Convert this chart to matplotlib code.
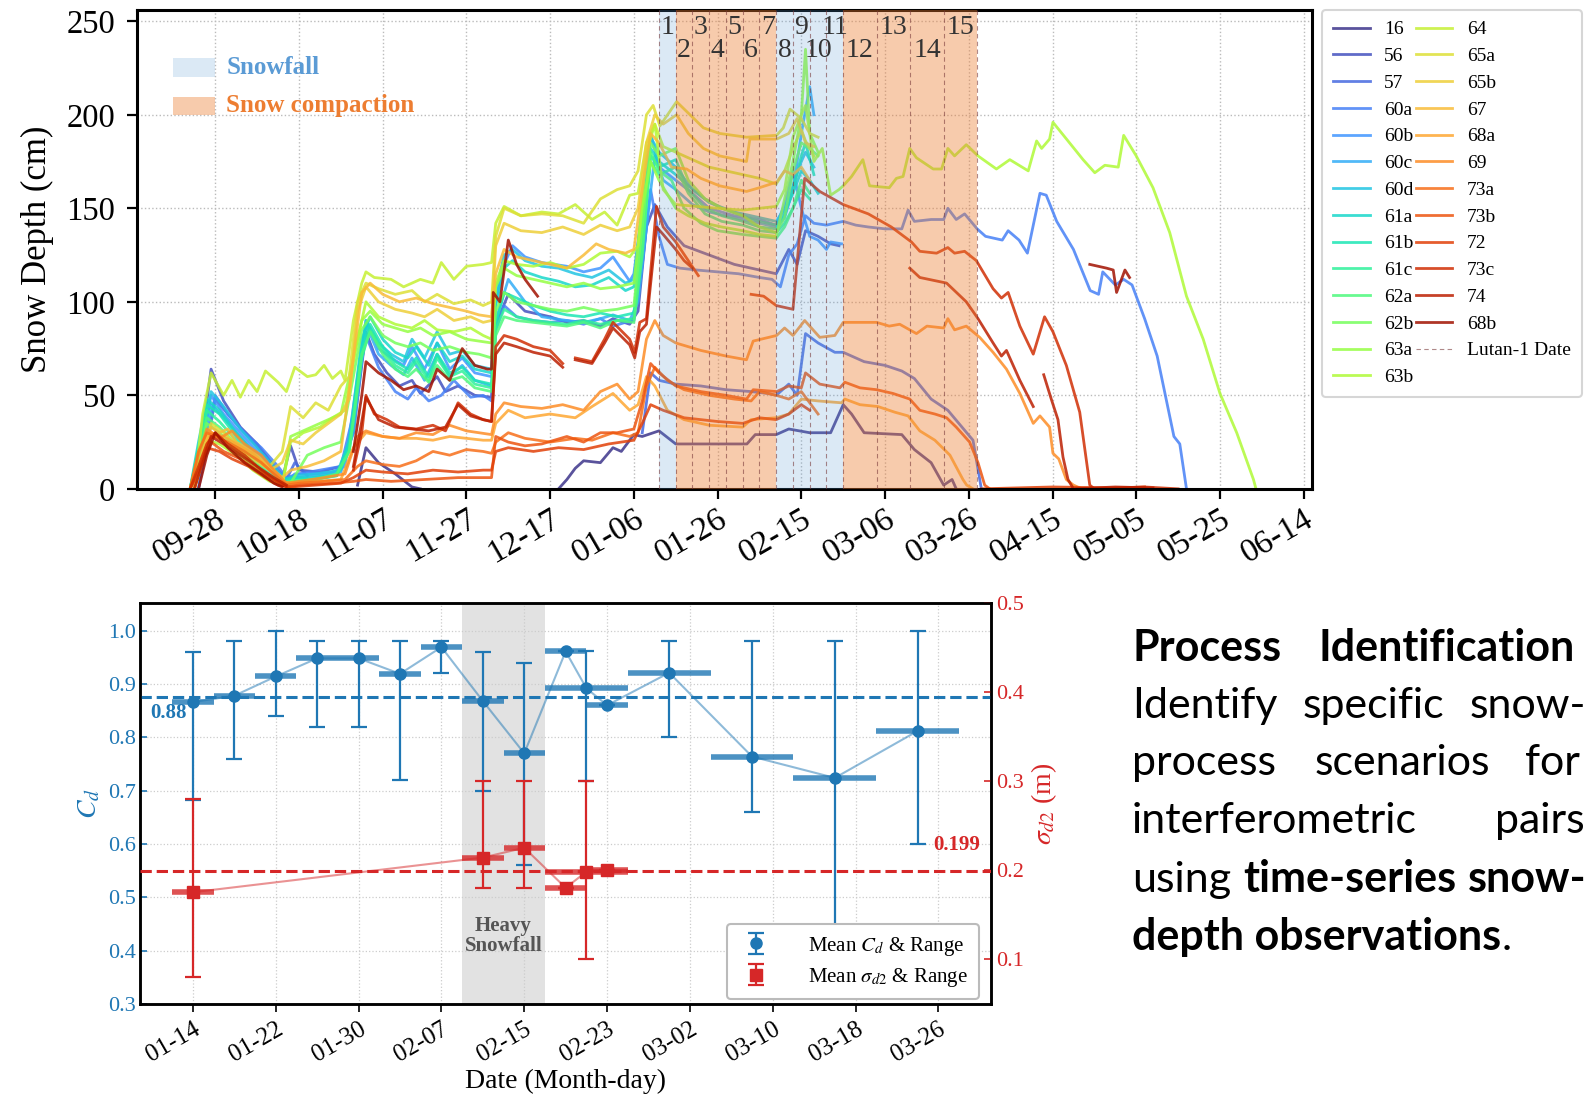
import numpy as np
import matplotlib
matplotlib.use("Agg")
import matplotlib.pyplot as plt
import matplotlib.dates as mdates
from matplotlib.patches import Rectangle, ConnectionPatch
from matplotlib.ticker import FixedLocator

plt.rcParams["font.family"] = ["Liberation Serif", "DejaVu Serif"]
plt.rcParams["mathtext.fontset"] = "stix"

N = np.nan
START = "2023-09-28"  # day 0 of the station records

# ---------------- snow-depth records: (day after START, depth cm) ----------------
station_names = ["16", "56", "57", "60a", "60b", "60c", "60d", "61a", "61b", "61c",
                 "62a", "62b", "63a", "63b", "64", "65a", "65b", "67", "68a", "69",
                 "73a", "73b", "72", "73c", "74", "68b"]

s16 = [(34,2),(36,22),(39,14),(43,8),(47,1),(49,0),(50,N),(82,0),(84,5),(86,11),(88,15),(92,14),
       (95,22),(97,20),(100,29),(102,28),(106,31),(110,24),(118,24),(127,24),(129,29),(134,29),
       (137,32),(142,30),(147,30),(150,45),(152,40),(155,30),(164,29),(167,21),(171,14),(174,2),
       (176,5),(177,0)]
s56 = [(-5,0),(-3,30),(-1,64),(2,47),(6,33),(10,24),(14,12),(16,5),(18,23),(20,10),(25,9),(30,12),
       (33,30),(36,84),(38,72),(41,62),(44,55),(47,58),(49,51),(53,60),(55,52),(58,55),(62,50),
       (66,49),(67,88),(70,104),(74,95),(80,92),(84,89),(88,90),(92,87),(95,91),(99,88),(101,95),
       (103,140),(105,152),(108,140),(112,130),(118,125),(124,120),(130,117),(134,115),(137,128),
       (139,120),(141,138),(144,135),(147,131),(149,130)]
s57 = [(-4,0),(-2,22),(0,48),(3,40),(7,30),(11,20),(15,10),(17,5),(19,14),(22,7),(24,N),(102,30),
       (104,62),(106,58),(110,56),(116,55),(122,53),(128,52),(132,51),(134,50),(137,56),(139,50),
       (141,83),(144,78),(148,73),(150,73),(152,71),(155,68),(160,66),(164,63),(167,59),(171,48),
       (175,42),(178,34),(181,26),(183,0)]
s60a = [(-4,0),(-2,28),(0,50),(3,40),(7,30),(11,22),(15,12),(17,6),(20,8),(25,10),(30,12),(33,40),
        (36,82),(39,65),(43,52),(46,48),(48,54),(51,47),(54,50),(57,58),(61,49),(64,50),(66,47),
        (67,85),(69,98),(72,92),(76,90),(80,89),(84,90),(88,88),(92,91),(95,87),(98,89),(100,90),
        (102,120),(104,160),(106,135),(108,120),(111,118),(115,117),(120,116),(125,115),(130,113),
        (133,112),(135,108),(137,125),(139,131),(141,146),(143,142),(146,141),(150,143),(153,141),
        (156,140),(160,139),(164,139),(165.5,149),(167,143),(171,144),(174,144),(175,150),(177,144),
        (179,147),(182,139),(184,135),(188,133),(189.4,138),(192,133),(194,126),(197,158),
        (198.5,157),(201,143),(205,128),(209,106),(211,104),(212,116),(215,109),(217,112),
        (219,109),(222,91),(225,71),(229,28),(230.4,24),(232,0)]
s60b = [(-5,0),(-3,25),(-1,50),(2,40),(6,30),(10,20),(14,10),(17,4),(19,8),(23,8),(28,9),(31,12),
        (34,60),(36,90),(39,75),(42,70),(45,66),(47,76),(50,64),(53,78),(56,64),(59,70),(62,62),
        (66,60),(67,100),(69,120),(71,130),(74,124),(78,121),(84,119),(88,116),(92,118),(95,124),
        (99,111),(100,115),(102,150),(104,190),(106,172),(110,165),(114,158),(118,150),(124,146),
        (130,144),(134,141),(136,152),(138,170),(140,150),(142,135),(144,133),(146,128),(147,132),
        (149.6,131)]
s60c = [(-5,0),(-3,20),(-1,45),(2,38),(6,28),(10,18),(14,8),(17,3),(19,6),(24,7),(30,9),(33,30),
        (36,88),(39,72),(42,66),(45,61),(47,70),(50,58),(53,72),(56,60),(59,66),(62,58),(66,55),
        (67,90),(70,112),(74,100),(78,92),(84,90),(88,89),(92,91),(95,93),(99,90),(101,100),
        (103,140),(105,178),(107,165),(110,160),(114,152),(118,148),(124,145),(130,142),(134,140),
        (136,145),(138,160),(140,190),(142,215),(143,200)]
s60d = [(-5,0),(-3,28),(-1,52),(2,44),(6,32),(10,22),(14,12),(17,4),(19,7),(24,8),(30,10),(33,35),
        (36,90),(39,78),(42,72),(45,68),(47,80),(50,70),(53,84),(56,72),(59,74),(62,66),(66,64),
        (67,105),(69,125),(71,128),(74,122),(78,119),(82,118),(86,115),(90,113),(94,117),(98,110),
        (100,112),(102,150),(104,188),(106,180),(110,172),(114,160),(118,153),(124,148),(130,145),
        (134,143),(136,150),(138,162),(140,175),(141,180),(143,172)]
s61a = [(-6,0),(-4,25),(-2,48),(1,42),(5,30),(9,20),(13,12),(16,5),(18,6),(23,6),(29,8),(32,25),
        (35,80),(37,92),(40,80),(43,73),(46,70),(48,76),(51,66),(53,78),(56,68),(59,71),(62,64),
        (66,62),(67,98),(69,118),(71,122),(74,116),(78,113),(82,111),(86,108),(90,109),(94,113),
        (98,106),(100,108),(102,140),(104,182),(106,175),(110,168),(113,162),(117,155),(121,150),
        (126,146),(130,143),(134,141),(136,148),(138,158),(140,170),(142,165),(144,158)]
s61b = [(-6,0),(-4,22),(-2,45),(1,40),(5,28),(9,18),(13,10),(16,4),(18,5),(23,5),(29,7),(32,22),
        (35,75),(37,88),(40,76),(43,68),(46,64),(48,70),(51,60),(53,72),(56,62),(59,65),(62,58),
        (66,56),(67,88),(69,105),(72,102),(76,98),(80,95),(84,93),(88,92),(92,94),(96,92),(100,94),
        (102,135),(104,178),(106,172),(110,176),(113,160),(117,150),(121,146),(126,143),(130,140),
        (134,139),(136,146),(138,160),(140,178),(141,185),(143,168)]
s61c = [(-6,0),(-4,20),(-2,42),(1,36),(5,26),(9,16),(13,8),(16,3),(18,4),(24,5),(29,7),(32,20),
        (35,70),(37,85),(40,74),(43,66),(46,62),(48,68),(51,58),(53,70),(56,60),(59,63),(62,56),
        (66,54),(67,85),(69,96),(72,92),(76,90),(80,89),(84,88),(88,90),(92,88),(96,90),(100,91),
        (102,130),(104,175),(106,168),(110,172),(113,158),(117,147),(121,143),(126,141),(130,138),
        (134,137),(136,142),(138,150),(140,160),(142,155)]
s62a = [(-6,0),(-4,18),(-2,38),(1,33),(5,24),(9,15),(13,7),(16,3),(18,4),(24,5),(29,8),(32,20),
        (35,72),(37,84),(40,72),(43,64),(46,60),(48,64),(51,57),(53,66),(56,58),(59,60),(62,54),
        (66,52),(67,82),(69,92),(72,90),(76,89),(80,88),(84,87),(88,89),(92,86),(96,90),(100,89),
        (102,125),(104,180),(106,170),(109,165),(112,150),(116,142),(120,138),(126,136),(130,135),
        (134,134),(136,140),(138,150),(140,165),(142,158)]
s62b = [(-6,0),(-4,15),(-2,35),(1,30),(5,22),(9,14),(13,6),(16,2),(18,3),(22,18),(26,22),(30,25),
        (33,60),(35,85),(37,92),(40,82),(43,78),(46,76),(49,78),(52,74),(56,76),(60,73),(63,72),
        (66,70),(67,95),(69,105),(72,100),(76,98),(80,96),(84,95),(88,97),(92,95),(96,96),(100,98),
        (102,140),(104,185),(106,178),(110,182),(113,165),(117,155),(121,150),(126,146),(130,140),
        (134,137),(136,145),(138,170),(140,185),(142,182),(144,178)]
s63a = [(-6,0),(-4,14),(-2,30),(1,28),(5,20),(9,12),(13,6),(16,2),(18,28),(22,32),(26,36),(30,40),
        (33,70),(35,90),(37,95),(40,88),(43,86),(46,84),(49,86),(52,82),(56,84),(60,80),(63,79),
        (66,78),(67,108),(69,118),(72,114),(76,112),(80,110),(84,108),(88,110),(92,107),(96,108),
        (100,110),(102,150),(104,175),(106,165),(110,150),(113,146),(117,142),(121,140),(126,138),
        (130,136),(134,135),(136,155),(138,175),(140,200),(141,235),(142,190),(144,180)]
s63b = [(-6,0),(-4,12),(-2,26),(1,24),(5,18),(9,10),(13,4),(16,2),(18,25),(21,30),(25,33),(28,38),
        (31,42),(34,80),(36,100),(39,92),(43,88),(47,86),(50,90),(53,85),(57,84),(61,86),(64,82),
        (66,80),(67,110),(69,122),(72,120),(76,119),(80,121),(84,118),(88,120),(92,126),(96,127),
        (99,124),(101,130),(103,180),(105,195),(107,160),(110,152),(115,151),(120,150),(126,149),
        (130,150),(134,151),(136,160),(138,188),(140,200),(141,205),(143,175),(145,182),(147,157),
        (149,160),(150,162),(152,167),(154.7,176),(156.3,162),(161,161),(162.7,166),(164.3,167),
        (165.9,182),(167.5,177),(171.5,171),(173.5,171),(175,182),(176.6,178),(179.4,184),
        (182.2,178),(186.6,171),(189.8,176),(194.2,170),(196.2,186),(197.4,182),(199.3,187),
        (200.1,196),(203.7,186),(207.3,176),(210.1,169),(212.5,173),(215.7,172),(217,189),
        (220,178),(224,161),(228,137),(232,103),(236,80),(240,51),(244,30),(248,5),(248.6,0)]
s64 = [(-5,0),(-3,40),(-1,62),(2,50),(4,58),(6,49),(8,58),(10,52),(12,63),(15,57),(17,52),(19,65),
       (22,60),(24,61),(26,66),(28,59),(30,63),(31,58),(33,90),(35,110),(36,116),(38,113),(42,112),
       (45,108),(49,112),(52,110),(54,121),(57,112),(60,119),(64,120),(66,121),(67,142),(69,151),
       (73,146),(78,148),(82,147),(86,152),(90,144),(93,148),(96,141),(99,157),(101,158),(103,185),
       (105,195),(107,183),(110,180),(114,176),(118,172),(124,169),(130,166),(134,163),(136,170),
       (138,182),(140,192),(141,186),(143,178)]
s65a = [(-5,0),(-3,18),(-1,35),(2,30),(5,24),(9,18),(13,12),(16,20),(18,44),(21,38),(24,46),(27,42),
        (30,55),(32,60),(34,100),(36,110),(39,107),(43,104),(47,106),(50,100),(53,104),(57,99),
        (61,101),(64,98),(66,100),(67,135),(69,150),(73,146),(78,147),(83,146),(88,142),(92,155),
        (96,160),(99,162),(101,170),(103,200),(104.6,205),(106.2,194),(110.2,207),(113.4,200),
        (116.6,193),(120.5,190),(126.9,188),(134.1,189),(135.7,193),(137.3,203),(140,198),
        (142,190),(144,188)]
s65b = [(-5,0),(-3,15),(-1,30),(2,26),(5,22),(9,16),(13,10),(16,14),(18,26),(21,24),(24,30),(27,35),
        (30,40),(32,48),(34,95),(36,108),(39,100),(43,96),(47,94),(50,92),(53,96),(57,90),(61,92),
        (64,89),(66,90),(67,130),(69,142),(73,138),(78,137),(83,140),(88,136),(92,141),(96,138),
        (99,140),(101,150),(103,185),(105,200),(107,195),(110.2,200),(113,190),(116.6,182),
        (120.5,178),(126.9,175),(127.7,187),(134.1,187),(137,190),(139,198),(141,185),(143,183)]
s67 = [(-5,0),(-3,20),(-1,33),(1,30),(3,32),(5,25),(9,20),(13,12),(16,6),(18,10),(22,12),(26,15),
       (30,20),(33,70),(35,105),(37,110),(40,104),(44,100),(48,102),(52,99),(56,97),(60,95),(63,93),
       (66,92),(67,115),(69,128),(72,124),(76,122),(80,120),(84,118),(88,125),(91,131),(94,128),
       (98,126),(100,128),(102,160),(104,190),(106,185),(109,172),(112.6,171),(116,166),
       (120.5,162),(126.9,159),(130,161),(134.1,164),(136,170),(138,168),(140,172),(142,165)]
s68a = [(-5,0),(-3,15),(-1,30),(2,28),(5,24),(9,19),(13,10),(16,4),(18,3),(24,4),(30,5),(33,22),
        (36,30),(40,28),(44,27),(48,27),(52,26),(56,28),(60,27),(64,26),(66,26),(67,35),(70,42),
        (74,38),(80,40),(86,38),(90,44),(95,51),(99,42),(101,45),(103,60),(105,55),(108,42),
        (112,37),(118,34),(126,33),(128,37),(134,38),(137,40),(140,48),(144,47),(149.6,46),
        (150.4,48),(154,45),(158.3,44),(162.3,41),(165.5,39),(168.3,31),(171.9,26),(175.5,18),
        (178.6,5),(179.5,2),(181,0)]
s69 = [(-6,0),(-4,18),(-2,32),(1,27),(4,31),(7,24),(11,18),(14,10),(17,3),(20,4),(26,6),(31,8),
       (34,28),(36,31),(40,28),(44,27),(48,30),(52,29),(56,34),(60,31),(63,30),(66,29),(67,40),
       (69,46),(73,44),(78,43),(83,45),(88,42),(92,52),(96,56),(99,48),(101,52),(103,80),(105,90),
       (107,82),(110,78),(116,74),(122,71),(126.9,69),(128.5,79),(134.1,82),(136,86),(138,82),
       (140.8,90),(144.4,81),(148,82),(150,89),(158,89),(161,87),(163.5,88),(167.5,83),(170,87),
       (174,86),(175,91),(176.6,85),(179.4,87),(182.6,81),(185.8,73),(189,64),(192.2,51),
       (195.4,35),(197,39),(199.3,33),(200.1,19),(201.5,16),(203.3,5),(205,2),(207,0)]
s73a = [(-6,0),(-4,20),(-2,30),(0,28),(3,25),(7,20),(11,14),(14,8),(17,2),(20,3),(26,4),(31,5),
        (34,12),(36,15),(40,13),(44,12),(48,15),(52,20),(56,18),(60,21),(64,20),(66,19),(67,25),
        (70,30),(74,27),(80,25),(86,27),(90,26),(95,30),(99,28),(101,30),(103,55),(105,65),(108,58),
        (112,53),(118,50),(124,48),(128,47),(130,52),(134,50),(137,48),(140,52),(142,46),(144,40)]
s73b = [(-6,0),(-3,14),(-1,25),(2,20),(6,16),(10,10),(14,5),(17,1),(20,2),(28,3),(33,4),(36,5),
        (42,4),(50,5),(58,6),(66,6),(67,28),(70,25),(74,23),(78,24),(84,28),(88,25),(92,30),(96,30),
        (100,32),(102,47),(104,67),(106,62),(110,55),(116,52),(122,50),(126.9,48),(128.5,53),
        (134.1,52),(137,55),(140,54),(141,62),(144.4,56),(149.2,54),(150.4,57),(154,54),(158,53),
        (161.9,51),(165.9,48),(168.3,42),(171.9,40),(174.7,38),(177,33),(180.2,25),(182.2,14),
        (183.8,2),(185,0)]
s72 = [(-6,0),(-4,10),(-2,22),(1,20),(4,16),(8,12),(12,6),(15,2),(18,1),(24,2),(30,3),(33,6),
       (36,10),(40,9),(46,8),(52,10),(58,9),(64,10),(66,10),(67,20),(70,22),(76,20),(82,22),
       (88,21),(94,24),(100,26),(102,35),(104,45),(107,42),(112,38),(120,36),(126,35),(130,38),
       (134,37),(137,40),(140,45),(142,42),(144,N),(183,0),(200,1),(215,0.5),(222,1)]
s73c = [(-6,0),(-4,12),(-2,24),(0,30),(3,24),(7,18),(11,10),(14,5),(17,1),(22,N),(33,10),(35,30),
        (36,50),(38,40),(41,37),(44,33),(48,32),(52,34),(55,31),(58,46),(61,40),(64,37),(66,36),
        (67,76),(69,82),(72,80),(76,76),(80,74),(83,67),(84,N),(86,70),(90,68),(93,80),(95,89),
        (99,80),(100.2,73),(101.4,89),(103,91),(105.4,151),(107,140),(110,132),(113,122),
        (115.4,114),(116,N),(128,104),(131,103),(134,98),(138,96),(140.8,166),(144.4,159),
        (150,152),(156,147),(161.5,140),(166.3,132),(168.3,127),(172.3,126),(175,129),(176.6,126),
        (179,127),(181.8,122),(183.4,116),(185.8,107),(187.8,102),(189.4,105),(192.2,87),
        (195.4,72),(198.1,92),(200.1,84),(203.3,66),(206.5,41),(208.9,2),(210,0),(222,1),(230,0)]
s74 = [(-5,0),(-3,14),(-1,28),(2,24),(6,18),(10,12),(14,6),(17,2),(20,N),(33,12),(35,36),(36,49),
       (39,37),(43,33),(47,32),(51,31),(55,33),(58,45),(61,39),(64,37),(66,36),(67,72),(69,78),
       (72,76),(76,73),(80,71),(83,65),(84,N),(86,69),(90,67),(93,78),(95,86),(99,77),(100.2,70),
       (101.4,84),(103,88),(105.4,140),(107,136),(110,128),(112,122),(114,118),(115,N),(165.9,118),
       (168.3,113),(174.7,110),(179.4,100),(182.2,91),(185.8,78),(187.8,71),(189,74),(192.2,58),
       (195.4,44),(196,N),(197.9,61),(199.7,48),(201.3,37),(202.5,17),(203.7,5),(205,0),(215,1),
       (224,0.5)]
s68b = [(-4,0),(-2,18),(0,30),(3,22),(7,14),(11,8),(14,3),(16,1),(17,N),(33,20),(35,50),(36,68),
        (39,62),(42,58),(45,53),(48,55),(51,52),(53,64),(56,58),(59,75),(62,66),(65,64),(66,64),
        (66.4,105),(68,100),(70,133),(72,120),(74,112),(77,103),(78,N),(208.9,120),(212.9,118),
        (214.5,117),(215.3,105),(217.3,117),(218.4,113)]

station_series = [s16, s56, s57, s60a, s60b, s60c, s60d, s61a, s61b, s61c, s62a, s62b, s63a,
                  s63b, s64, s65a, s65b, s67, s68a, s69, s73a, s73b, s72, s73c, s74, s68b]

# Lutan-1 acquisition dates and the process in each interval between them
lutan_dates = ["2024-01-12", "2024-01-16", "2024-01-20", "2024-01-24", "2024-01-28",
               "2024-02-01", "2024-02-05", "2024-02-09", "2024-02-13", "2024-02-17",
               "2024-02-21", "2024-02-25", "2024-03-04", "2024-03-12", "2024-03-20",
               "2024-03-28"]
interval_process = ["snowfall", "compaction", "compaction", "compaction", "compaction",
                    "compaction", "compaction", "snowfall", "snowfall", "snowfall", "snowfall",
                    "compaction", "compaction", "compaction", "compaction"]

top_ticks = ["2023-09-28", "2023-10-18", "2023-11-07", "2023-11-27", "2023-12-17",
             "2024-01-06", "2024-01-26", "2024-02-15", "2024-03-06", "2024-03-26",
             "2024-04-15", "2024-05-05", "2024-05-25", "2024-06-14"]

# ---------------- interferometric pair statistics ----------------
pair_mid = ["2024-01-14", "2024-01-18", "2024-01-22", "2024-01-26", "2024-01-30", "2024-02-03",
            "2024-02-07", "2024-02-11", "2024-02-15", "2024-02-19", "2024-02-21", "2024-02-23",
            "2024-02-29", "2024-03-08", "2024-03-16", "2024-03-24"]
pair_half_span = [2, 2, 2, 2, 2, 2, 2, 2, 2, 2, 4, 2, 4, 4, 4, 4]
cd_mean = [0.866, 0.878, 0.914, 0.948, 0.948, 0.919, 0.969, 0.868, 0.770, 0.961, 0.892, 0.860,
           0.921, 0.764, 0.724, 0.812]
cd_min = [0.683, 0.76, 0.84, 0.82, 0.82, 0.72, 0.92, 0.70, 0.56, 0.961, 0.719, 0.860, 0.80,
          0.661, 0.40, 0.60]
cd_max = [0.96, 0.98, 1.00, 0.98, 0.98, 0.98, 0.98, 0.96, 0.94, 0.961, 0.961, 0.860, 0.98, 0.98,
          0.98, 1.00]
cd_overall = 0.875

sig_mid = ["2024-01-14", "2024-02-11", "2024-02-15", "2024-02-19", "2024-02-21", "2024-02-23"]
sig_half_span = [2, 2, 2, 2, 4, 2]
sig_mean = [0.175, 0.214, 0.225, 0.180, 0.198, 0.200]
sig_min = [0.08, 0.18, 0.18, 0.180, 0.10, 0.200]
sig_max = [0.28, 0.30, 0.30, 0.180, 0.30, 0.200]
sig_overall = 0.199

heavy_snow = ["2024-02-09", "2024-02-17"]
bottom_ticks = ["2024-01-14", "2024-01-22", "2024-01-30", "2024-02-07", "2024-02-15",
                "2024-02-23", "2024-03-02", "2024-03-10", "2024-03-18", "2024-03-26"]

# ---------------- helpers ----------------
def dnum(s):
    return mdates.date2num(np.datetime64(s))

t0 = dnum(START)

fig = plt.figure(figsize=(15.87, 11.01), dpi=100)

# ================= top: snow depth time series =================
ax = fig.add_axes([0.0863, 0.556, 0.7402, 0.4349])
colors = plt.get_cmap("turbo")(np.linspace(0.05, 0.95, len(station_names)))
for name, rec, c in zip(station_names, station_series, colors):
    d = np.array([p[0] for p in rec], dtype=float)
    v = np.array([p[1] for p in rec], dtype=float)
    ax.plot(t0 + d, v, color=c, lw=2.0, alpha=0.85, label=name, zorder=2)

lut = np.array([dnum(s) for s in lutan_dates])
# shade runs of intervals sharing the same process
span_style = {"snowfall": dict(color="#5b9bd5", alpha=0.22),
              "compaction": dict(color="#ed7d31", alpha=0.40)}
i = 0
while i < len(interval_process):
    j = i
    while j + 1 < len(interval_process) and interval_process[j + 1] == interval_process[i]:
        j += 1
    ax.axvspan(lut[i], lut[j + 1], lw=0, zorder=3, **span_style[interval_process[i]])
    i = j + 1
for k, x in enumerate(lut):
    ax.axvline(x, color="#7a3b3b", lw=0.8, ls=(0, (4, 3)), alpha=0.6, zorder=4,
               label="Lutan-1 Date" if k == 0 else None)
for k in range(len(lut) - 1):
    xm = 0.5 * (lut[k] + lut[k + 1])
    ax.text(xm, 246.5 if k % 2 == 0 else 234.5, str(k + 1), ha="center", va="center",
            fontsize=20, color="#333333", zorder=5)

ax.set_xlim(t0 - 18.7, t0 + 261.9)
ax.set_ylim(0, 256)
ax.xaxis.set_major_locator(FixedLocator([dnum(s) for s in top_ticks]))
ax.xaxis.set_major_formatter(mdates.DateFormatter("%m-%d"))
ax.set_yticks([0, 50, 100, 150, 200, 250])
ax.tick_params(axis="both", direction="out", length=7.5, width=1.6)
ax.tick_params(axis="y", labelsize=23.5, pad=8)
ax.tick_params(axis="x", labelsize=24, pad=3)
plt.setp(ax.get_xticklabels(), rotation=30, ha="right", rotation_mode="anchor")
ax.set_ylabel("Snow Depth (cm)", fontsize=25, labelpad=9)
ax.grid(True, ls=":", color="#bbbbbb", lw=1.0, zorder=0)
ax.set_axisbelow(True)
for sp in ax.spines.values():
    sp.set_linewidth(2.2)

# process key in the upper-left corner
ax.add_patch(Rectangle((0.0303, 0.860), 0.0358, 0.040, transform=ax.transAxes,
                       color="#5b9bd5", alpha=0.22, lw=0, zorder=5))
ax.add_patch(Rectangle((0.0303, 0.781), 0.0358, 0.038, transform=ax.transAxes,
                       color="#ed7d31", alpha=0.40, lw=0, zorder=5))
ax.text(0.0761, 0.880, "Snowfall", transform=ax.transAxes, fontsize=18, fontweight="bold",
        color="#5b9bd5", va="center", ha="left")
ax.text(0.0761, 0.800, "Snow compaction", transform=ax.transAxes, fontsize=18,
        fontweight="bold", color="#ed7d31", va="center", ha="left")

leg = ax.legend(loc="upper left", bbox_to_anchor=(1322 / 1587, 1 - 10 / 1101),
                bbox_transform=fig.transFigure, borderaxespad=0, ncol=2, fontsize=14,
                handlelength=1.9, handletextpad=0.75, columnspacing=0.1, labelspacing=0.47,
                frameon=True, fancybox=True, edgecolor="#cccccc", borderpad=0.55)
leg.get_frame().set_linewidth(1.5)

# ================= bottom: coherence and sigma per pair =================
axb = fig.add_axes([0.0885, 0.0879, 0.5358, 0.3641])
blue, red = "#1f77b4", "#d62728"
xm = np.array([dnum(s) for s in pair_mid])
cdm = np.array(cd_mean)
axb.axvspan(dnum(heavy_snow[0]), dnum(heavy_snow[1]), color="#e2e2e2", lw=0, zorder=0)
axb.plot(xm, cdm, color=blue, lw=1.5, alpha=0.5, zorder=2)
axb.hlines(cdm, xm - np.array(pair_half_span), xm + np.array(pair_half_span), color=blue,
           lw=4, alpha=0.8, zorder=3)
eb1 = axb.errorbar(xm, cdm, yerr=[cdm - np.array(cd_min), np.array(cd_max) - cdm], fmt="o",
                   color=blue, ms=8, elinewidth=1.6, capsize=6, capthick=1.6, zorder=4,
                   label=r"Mean $C_d$ & Range")
axb.axhline(cd_overall, color=blue, ls="--", lw=2.2, zorder=3)
axb.text(0.011, 0.846, f"{cd_overall:.2f}", transform=axb.get_yaxis_transform(), ha="left",
         va="center", fontsize=15, fontweight="bold", color=blue)
axb.text(0.5 * (dnum(heavy_snow[0]) + dnum(heavy_snow[1])), 0.428, "Heavy\nSnowfall",
         ha="center", va="center", fontsize=15, fontweight="bold", color="#555555",
         linespacing=1.0)
axb.set_xlim(dnum("2024-01-14") - 5.07, dnum("2024-02-23") + 37.06)
axb.set_ylim(0.3, 1.051)
axb.set_yticks(np.arange(0.3, 1.01, 0.1))
axb.xaxis.set_major_locator(FixedLocator([dnum(s) for s in bottom_ticks]))
axb.xaxis.set_major_formatter(mdates.DateFormatter("%m-%d"))
axb.tick_params(axis="x", direction="out", length=6, width=1.2, labelsize=18, pad=4)
axb.tick_params(axis="y", direction="in", length=5, width=1.2, labelsize=16, colors=blue)
plt.setp(axb.get_xticklabels(), rotation=30, ha="right", rotation_mode="anchor")
axb.set_xlabel("Date (Month-day)", fontsize=20, labelpad=2)
axb.set_ylabel(r"$C_d$", fontsize=20, color=blue)
axb.grid(True, ls=":", color="#cccccc", lw=0.9, zorder=0)
axb.set_axisbelow(True)
for sp in axb.spines.values():
    sp.set_linewidth(1.8)

ax2 = axb.twinx()
xs = np.array([dnum(s) for s in sig_mid])
sgm = np.array(sig_mean)
ax2.plot(xs, sgm, color=red, lw=1.5, alpha=0.5, zorder=2)
ax2.hlines(sgm, xs - np.array(sig_half_span), xs + np.array(sig_half_span), color=red, lw=4,
           alpha=0.8, zorder=3)
eb2 = ax2.errorbar(xs, sgm, yerr=[sgm - np.array(sig_min), np.array(sig_max) - sgm], fmt="s",
                   color=red, ms=8, elinewidth=1.6, capsize=6, capthick=1.6, zorder=4,
                   label=r"Mean $\sigma_{d2}$ & Range")
ax2.axhline(sig_overall, color=red, ls="--", lw=2.2, zorder=3)
ax2.text(0.988, 0.228, f"{sig_overall:.3f}", transform=ax2.get_yaxis_transform(), ha="right",
         va="center", fontsize=15, fontweight="bold", color=red)
ax2.set_ylim(0.049, 0.5)
ax2.set_yticks([0.1, 0.2, 0.3, 0.4, 0.5])
ax2.tick_params(axis="y", direction="in", length=5, width=1.2, labelsize=16, colors=red)
ax2.set_ylabel(r"$\sigma_{d2}$ (m)", fontsize=20, color=red)
for sp in ax2.spines.values():
    sp.set_linewidth(1.8)
lg2 = ax2.legend(handles=[eb1, eb2], loc="lower right", bbox_to_anchor=(0.986, 0.012),
                 borderaxespad=0, fontsize=15, handlelength=1.8, handletextpad=1.6,
                 borderpad=0.5, labelspacing=0.4, edgecolor="#bbbbbb", fancybox=True,
                 framealpha=1)
lg2.get_frame().set_linewidth(1.5)

# zoom connectors from the Lutan window to the pair panel
for xa, xb in [(lut[0], 0.0066), (lut[-1] - 1.3, 0.992)]:
    con = ConnectionPatch(xyA=(xa, -2), coordsA="data", axesA=ax,
                          xyB=(xb, 1.037), coordsB="axes fraction", axesB=axb,
                          color="#3a6bd4", lw=2)
    fig.add_artist(con)

# ================= description text =================
tfont = ["Lato", "DejaVu Sans"]
FS = 31
def word(x_px, y_px, s, bold=False):
    return fig.text(x_px / 1587, 1 - y_px / 1101, s, fontsize=FS, family=tfont,
                    fontweight="bold" if bold else "normal", ha="left", va="baseline")

word(1132, 661, "Process", True); word(1318, 661, "Identification", True)
word(1132, 718, "Identify"); word(1303, 718, "specific"); word(1470, 718, "snow-")
word(1132, 775, "process"); word(1315, 775, "scenarios"); word(1525, 775, "for")
word(1132, 833, "interferometric"); word(1495, 833, "pairs")
word(1132, 892, "using"); word(1243, 892, "time-series", True); word(1468, 892, "snow-", True)
last = word(1132, 950, "depth observations", True)

fig.canvas.draw()
bb = last.get_window_extent()
fig.text(bb.x1 / fig.bbox.width, 1 - 950 / 1101, ".", fontsize=FS, family=tfont,
         ha="left", va="baseline")

fig.savefig("out.png", dpi=100)
